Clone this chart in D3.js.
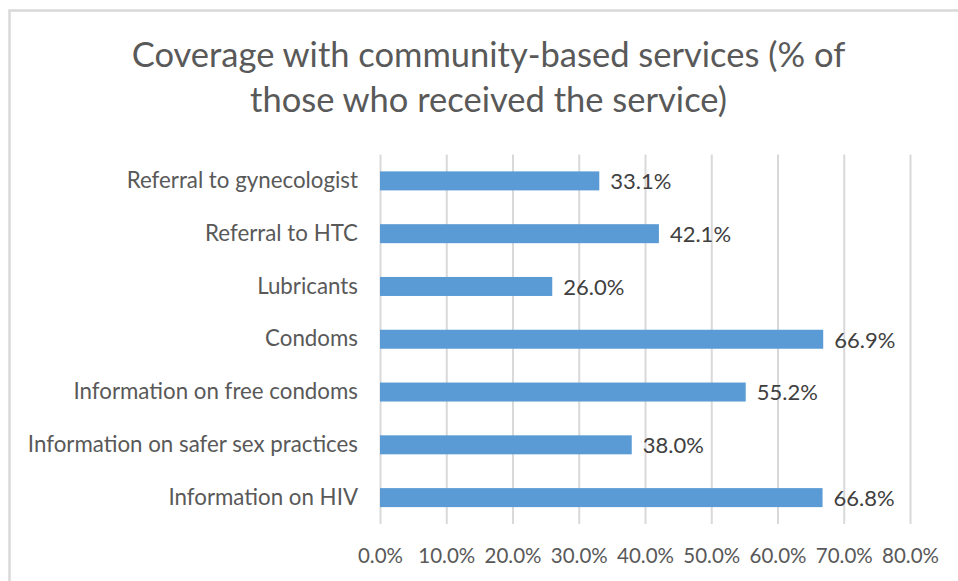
<!DOCTYPE html>
<html>
<head>
<meta charset="utf-8">
<script src="https://cdn.jsdelivr.net/npm/d3@7"></script>
<style>
  body { margin: 0; background: #fff; }
  svg { display: block; font-family: Lato, "Open Sans", sans-serif; }
</style>
</head>
<body>
<div class="chart"></div>
<script>
// data
var categories = [
    "Referral to gynecologist",
    "Referral to HTC",
    "Lubricants",
    "Condoms",
    "Information on free condoms",
    "Information on safer sex practices",
    "Information on HIV"
];
var values = [0.331, 0.421, 0.260, 0.669, 0.552, 0.380, 0.668];
var xTicks = [0, 0.1, 0.2, 0.3, 0.4, 0.5, 0.6, 0.7, 0.8];
var titleLines = ["Coverage with community-based services (% of", "those who received the service)"];

var svgWidth = 958;
var svgHeight = 581;

var margin = { top: 154.5, right: 48, bottom: 57, left: 380 };
var chartWidth = svgWidth - margin.left - margin.right;
var chartHeight = svgHeight - margin.top - margin.bottom;

var svg = d3.select(".chart")
    .append("svg")
    .attr("width", svgWidth)
    .attr("height", svgHeight);

svg.append("rect")
    .attr("width", svgWidth)
    .attr("height", svgHeight)
    .attr("fill", "#fff");

// chart area border (only left and top show in the picture)
svg.append("path")
    .attr("d", "M9.5," + svgHeight + "V10.5H" + svgWidth)
    .attr("fill", "none")
    .attr("stroke", "#d9d9d9")
    .attr("stroke-width", 2.5);

// title
svg.append("g").selectAll("text")
    .data(titleLines)
    .enter()
    .append("text")
    .attr("x", 488.5)
    .attr("y", (d, i) => 67 + i * 45)
    .attr("text-anchor", "middle")
    .attr("font-size", "34.5px")
    .attr("fill", "#595959")
    .text(d => d);

var chartGroup = svg.append("g")
    .attr("transform", `translate(${margin.left}, ${margin.top})`);

// scales
var xScale = d3.scaleLinear()
    .domain([0, 0.8])
    .range([0, chartWidth]);

var yScale = d3.scaleBand()
    .domain(categories)
    .range([0, chartHeight])
    .paddingInner(0.64)
    .paddingOuter(0.32);

// gridlines
var grid = chartGroup.append("g")
    .call(d3.axisBottom(xScale).tickValues(xTicks).tickSize(chartHeight).tickFormat(""));
grid.select(".domain").remove();
grid.selectAll("line")
    .attr("stroke", "#d9d9d9")
    .attr("stroke-width", 2);

// x axis labels
var xAxis = chartGroup.append("g")
    .attr("transform", `translate(0, ${chartHeight})`)
    .call(d3.axisBottom(xScale).tickValues(xTicks).tickSize(0).tickPadding(24).tickFormat(d3.format(".1%")));
xAxis.select(".domain").remove();
xAxis.selectAll("text")
    .attr("font-family", "Lato, sans-serif")
    .attr("font-size", "20.5px")
    .attr("fill", "#595959");

// y axis labels
var yAxis = chartGroup.append("g")
    .call(d3.axisLeft(yScale).tickSize(0).tickPadding(22));
yAxis.select(".domain").remove();
yAxis.selectAll("text")
    .attr("font-family", "Lato, sans-serif")
    .attr("font-size", "22.3px")
    .attr("fill", "#595959");

// bars
chartGroup.selectAll("rect.bar")
    .data(values)
    .enter()
    .append("rect")
    .attr("class", "bar")
    .attr("x", xScale(0))
    .attr("y", (d, i) => yScale(categories[i]))
    .attr("width", d => xScale(d) - xScale(0))
    .attr("height", yScale.bandwidth())
    .attr("fill", "#5b9bd5");

// value labels
chartGroup.selectAll("text.val")
    .data(values)
    .enter()
    .append("text")
    .attr("class", "val")
    .attr("x", d => xScale(d) + 11)
    .attr("y", (d, i) => yScale(categories[i]) + yScale.bandwidth() / 2)
    .attr("dy", "0.38em")
    .attr("font-size", "22px")
    .attr("fill", "#404040")
    .text(d => d3.format(".1%")(d));
</script>
</body>
</html>
